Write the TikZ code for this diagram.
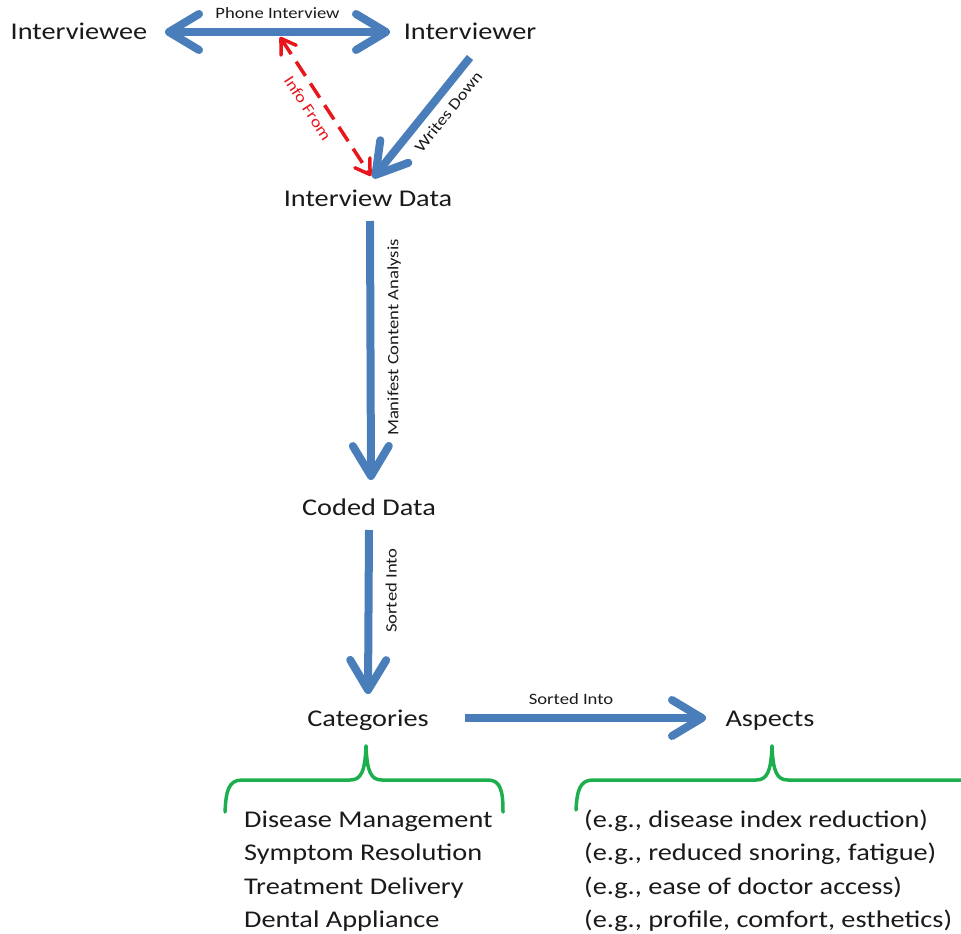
\documentclass[tikz,border=0pt]{standalone}
\usepackage{fontspec}
\setmainfont{Carlito}[FakeStretch=1.18]
\usetikzlibrary{arrows.meta}
\definecolor{ablue}{HTML}{4A7EBB}
\definecolor{agreen}{HTML}{1DAF4E}
\definecolor{ared}{HTML}{E8161B}
\definecolor{atext}{HTML}{1A1A1A}
\tikzset{
  big/.style={font=\fontsize{24}{28}\selectfont, inner sep=0pt, anchor=base, text=atext},
  lst/.style={font=\fontsize{24}{28}\selectfont, inner sep=0pt, anchor=base west, text=atext},
  small/.style={font=\fontsize{15.8}{18}\selectfont, inner sep=0pt, text=atext},
  vlabel/.style={small, rotate=90, anchor=north, inner sep=13pt},
  chev/.tip={Straight Barb[length=30pt,width=36pt,round]},
  rchev/.tip={Straight Barb[length=14pt,width=18pt,round]},
  barrow/.style={draw=ablue, line width=8pt, -chev},
  rarrow/.style={draw=ared, line width=3.5pt, dash pattern=on 17pt off 9pt, rchev-rchev},
  brace/.style={draw=agreen, line width=3.5pt, line cap=round, line join=round},
}
\begin{document}
\begin{tikzpicture}[x=1pt,y=-1pt]
\useasboundingbox (0,0) rectangle (961,934);
% main nodes
\node[big] (ee)  at (79,39.5)  {Interviewee};
\node[big] (er)  at (470,39.5) {Interviewer};
\node[big] (id)  at (368,206)  {Interview Data};
\node[big] (cd)  at (369,515)  {Coded Data};
\node[big] (cat) at (368,726)  {Categories};
\node[big] (asp) at (770,726)  {Aspects};
% lists
\node[lst] (l1) at (244,827) {Disease Management};
\node[lst] (l2) at (244,860) {Symptom Resolution};
\node[lst] (l3) at (244,894) {Treatment Delivery};
\node[lst] (l4) at (244,927) {Dental Appliance};
\node[lst] (r1) at (584,827) {(e.g., disease index reduction)};
\node[lst] (r2) at (584,860) {(e.g., reduced snoring, fatigue)};
\node[lst] (r3) at (584,894) {(e.g., ease of doctor access)};
\node[lst] (r4) at (584,927) {(e.g., profile, comfort, esthetics)};
% arrows
\draw[barrow, chev-chev] ([shift={(86pt,7.5pt)}]ee.base) --
  node[small, above=9pt, pos=0.5] {Phone Interview}
  ([shift={(-80pt,7.5pt)}]er.base);
\coordinate (pin) at (280,37);
\draw[rarrow] (pin) --
  node[small, text=ared, sloped, below=8.5pt, pos=0.45] {Info From}
  ([shift={(3pt,30pt)}]id.base);
\draw[barrow] ([yshift=-18pt]er.base) --
  node[small, sloped, below=7.5pt, pos=0.36] {Writes Down}
  ([shift={(5pt,28pt)}]id.base);
\draw[barrow] ([shift={(2pt,-15pt)}]id.base) --
  node[vlabel, pos=0.45] {Manifest Content Analysis}
  ([shift={(2pt,35pt)}]cd.base);
\draw[barrow] ([shift={(0pt,-15pt)}]cd.base) --
  node[vlabel, pos=0.37] {Sorted Into}
  ([shift={(0pt,32pt)}]cat.base);
\draw[barrow] ([shift={(97pt,8pt)}]cat.base) --
  node[small, above=9pt, pos=0.44] {Sorted Into}
  ([shift={(-64pt,8pt)}]asp.base);
% braces
\draw[brace] (225,812) .. controls (226,792) and (228,780) .. (242,780) -- (350,780)
  .. controls (361,780) and (365,772) .. (366,746);
\draw[brace] (366,746) .. controls (367,772) and (371,780) .. (382,780) -- (488,780)
  .. controls (501,780) and (503,792) .. (503,812);
\draw[brace] (576,810) .. controls (577,792) and (579,780) .. (593,780) -- (756,780)
  .. controls (767,780) and (771,772) .. (772,746);
\draw[brace] (772,746) .. controls (773,772) and (777,780) .. (788,780) -- (962,780);
\end{tikzpicture}
\end{document}
